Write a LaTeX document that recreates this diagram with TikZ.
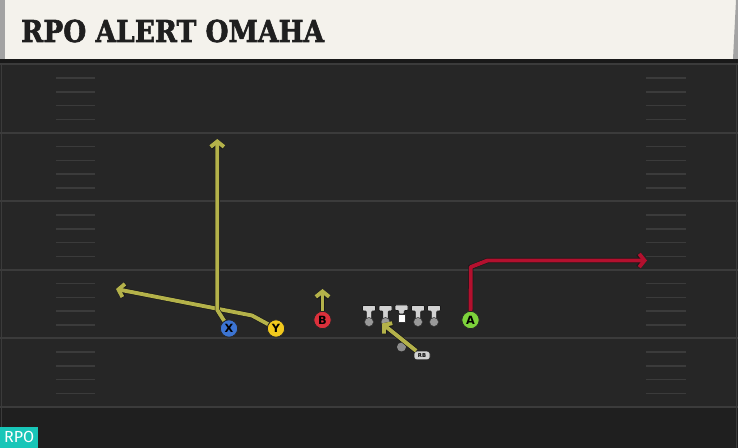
\documentclass[tikz,border=0pt]{standalone}
\usepackage{fontspec}
\newfontfamily\titlefont{DejaVu Serif}[FakeBold=2]
\newfontfamily\tagfont{Fira Sans}
\newfontfamily\playerfont{DejaVu Sans}
\usetikzlibrary{arrows.meta}

\definecolor{headerbg}{HTML}{F4F2EC}
\definecolor{headeredge}{HTML}{A3A3A3}
\definecolor{fieldbg}{HTML}{262626}
\definecolor{fieldlow}{HTML}{1F1F1F}
\definecolor{yardgray}{HTML}{3B3B3B}
\definecolor{routeolive}{HTML}{B4B24A}
\definecolor{routered}{HTML}{B3102E}
\definecolor{xblue}{HTML}{3C74D2}
\definecolor{yyellow}{HTML}{F2C91D}
\definecolor{bred}{HTML}{DB303B}
\definecolor{agreen}{HTML}{7DD23B}
\definecolor{linegray}{HTML}{D2D2D2}
\definecolor{tagteal}{HTML}{18C6B8}

\begin{document}
\begin{tikzpicture}[x=0.75pt,y=0.75pt,yscale=-1,xscale=1,
  route/.style={line width=2.9pt,line join=round,preaction={draw=black!90,line width=3.8pt}},
  routetip/.style={-{Straight Barb[length=4pt,width=10pt]}},
  player/.style={circle,draw=black!85,line width=0.6pt,inner sep=0pt,minimum size=13pt,font=\playerfont\bfseries\fontsize{8.5}{8.5}\selectfont},
  lineman/.style={fill=linegray,draw=black!90,line width=0.5pt,rounded corners=0.6pt},
  yard/.style={draw=yardgray,line width=1.5pt},
  hash/.style={draw=yardgray,line width=1.1pt}]
\useasboundingbox (0,0) rectangle (738,448);

%Shape: Rectangle [field]
\fill [fieldbg] (0,59) rectangle (738,448);
\fill [fieldlow] (0,408) rectangle (738,448);
\fill [black!90] (0,59) rectangle (738,63);
\draw [yardgray,line width=0.8pt] (1.5,63) -- (1.5,448) (736.5,63) -- (736.5,448);

%Straight Lines [yard lines]
\foreach \yl in {64.5,133,201.5,270,338.5,407}
  \draw [yard] (0,\yl) -- (738,\yl);
%Straight Lines [hash marks]
\foreach \k in {0,...,4}
  \foreach \j in {1,...,4}{
    \draw [hash] (56,64.5+68.5*\k+13.7*\j) -- (95,64.5+68.5*\k+13.7*\j);
    \draw [hash] (646,64.5+68.5*\k+13.7*\j) -- (686,64.5+68.5*\k+13.7*\j);
  }

%Shape: Rectangle [header]
\fill [headerbg] (0,0) rectangle (736,59);
\fill [headeredge] (0,0) rectangle (5,59);
\fill [headeredge] (736,0) -- (738,0) -- (738,59) -- (733,59) -- cycle;

% Text Node
\node [anchor=base west,inner sep=0pt,text=black!88,font=\titlefont\bfseries\fontsize{22.6}{24}\selectfont] (title) at (21,42) {\scalebox{0.88}[1]{RPO ALERT OMAHA}};

%Shape: Offensive line
\foreach \ox in {369,385.5,418,434}{
  \path [lineman] (\ox-6.5,305.5) -- (\ox+6.5,305.5) -- (\ox+6.5,311) -- (\ox+2.7,311) -- (\ox+2.7,321) -- (\ox-2.7,321) -- (\ox-2.7,311) -- (\ox-6.5,311) -- cycle;
  \fill [black!40!white,draw=black!80,line width=0.4pt] (\ox,322) circle (4.5);
}
\path [lineman] (395,305) -- (408,305) -- (408,310.5) -- (404.2,310.5) -- (404.2,314) -- (398.8,314) -- (398.8,310.5) -- (395,310.5) -- cycle;
\fill [white,draw=black!80,line width=0.4pt] (397.8,314) rectangle (405.6,322);
%Shape: Circle [quarterback]
\fill [black!45!white] (401.5,347) circle (4.5);

% Players
\node [player,fill=xblue] (X) at (229,328.5) {X};
\node [player,fill=yyellow] (Y) at (276,328.5) {Y};
\node [player,fill=bred] (B) at (322.5,320) {B};
\node [player,fill=agreen] (A) at (470.5,320) {A};
\node [fill=linegray,draw=black!85,line width=0.5pt,rounded corners=2pt,inner sep=0pt,minimum width=12pt,minimum height=6.5pt,font=\playerfont\bfseries\fontsize{4}{4}\selectfont] (RB) at (422,355.5) {RB};

% Route end points
\coordinate (xBreak) at (217.3,310);
\coordinate (xEnd) at (217.3,139);
\coordinate (yBreak) at (252,315.5);
\coordinate (yEnd) at (116,289);
\coordinate (bEnd) at (322.5,289);
\coordinate (aBreak) at (470.8,267);
\coordinate (aBend) at (487.5,260.5);
\coordinate (aEnd) at (647,260.5);
\coordinate (rbEnd) at (382,323.5);

%Straight Lines [routes]
\draw [route,routetip,draw=routeolive] (Y) -- (yBreak) -- (yEnd);
\draw [route,routetip,draw=routeolive] (X) -- (xBreak) -- (xEnd);
\draw [route,routetip,draw=routeolive] (B) -- (bEnd);
\draw [route,routetip,draw=routered] (A) -- (aBreak) -- (aBend) -- (aEnd);
\draw [route,routetip,draw=routeolive] (RB) -- (rbEnd);

% Text Node
\node [anchor=south west,fill=tagteal,text=white,inner sep=0pt,minimum width=28.5pt,minimum height=15.75pt,font=\tagfont\fontsize{12}{12}\selectfont] (rpoTag) at (0,448) {RPO};

\end{tikzpicture}
\end{document}
